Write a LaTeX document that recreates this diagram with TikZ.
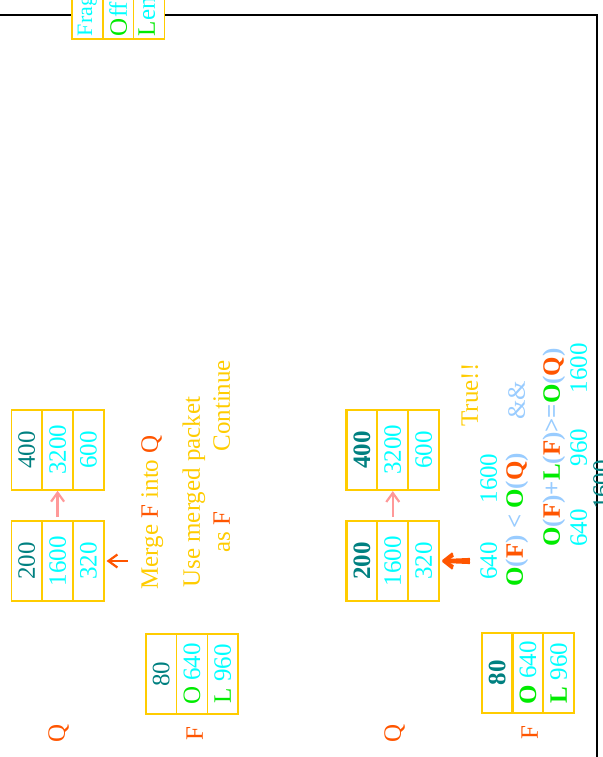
\documentclass[tikz,border=0pt]{standalone}
\usepackage{fontspec}
\setmainfont{Liberation Serif}
\usetikzlibrary{arrows.meta}
\definecolor{gold}{RGB}{255,204,0}
\definecolor{orng}{RGB}{255,85,0}
\definecolor{tealc}{RGB}{0,128,128}
\definecolor{cyanc}{RGB}{0,255,255}
\definecolor{grn}{RGB}{0,235,0}
\definecolor{lblue}{RGB}{153,204,255}
\definecolor{pinkc}{RGB}{255,153,153}
\tikzset{
	cell/.style={draw=gold,line width=0.75pt,minimum width=40pt,minimum height=15.4pt,inner sep=0pt,text=cyanc},
	boldcell/.style={cell,line width=1.1pt},
	txt/.style={inner sep=0pt,anchor=base west},
	num/.style={inner sep=0pt,anchor=base,text=cyanc},
	lbl/.style={inner sep=0pt,anchor=base,text=orng},
	barb/.style={-{Straight Barb[length=4.5pt,width=6.5pt]},line width=1.1pt},
}
% one packet = three cells on top of each other
\newcommand{\packet}[7]{%
	\node[#7] (#1-1) at (#2,#3) {#4};
	\node[#7] (#1-2) at (#2,#3-30.8) {#5};
	\node[#7] (#1-3) at (#2,#3-61.6) {#6};
}
\begin{document}
\begin{tikzpicture}[x=0.5pt,y=0.5pt,rotate=90,transform shape,
		every node/.style={font=\fontsize{12.5pt}{15pt}\selectfont}]
	\useasboundingbox (0,0) rectangle (757,602);
	\draw[line width=0.7pt] (-10,5) -- (742,5) -- (742,640);
	% legend
	\node[cell,fill=white,text width=37pt,align=left,inner xsep=1.5pt] (frag) at (758,514.6) {\fontsize{11pt}{13pt}\selectfont Fragment};
	\node[cell,fill=white,text width=37pt,align=left,inner xsep=1.5pt] (off) at (758,483.8) {\textcolor{grn}{O}ffset};
	\node[cell,fill=white,text width=37pt,align=left,inner xsep=1.5pt] (len) at (758,453) {\textcolor{grn}{L}ength};
	% before the merge
	\node[lbl] (q1) at (23.5,537) {Q};
	\node[lbl] (f1) at (23.5,399) {F};
	\packet{qa1}{196}{575.2}{\textcolor{tealc}{200}}{1600}{320}{cell}
	\packet{qb1}{307}{575.2}{\textcolor{tealc}{400}}{3200}{600}{cell}
	\packet{fp1}{83}{440.8}{\textcolor{tealc}{80}}{\textcolor{grn}{O} 640}{\textcolor{grn}{L} 960}{cell}
	\draw[barb,pinkc,shorten <=1.5pt] (qa1-2) -- (qb1-2);
	\coordinate (m1) at (196,474);
	\draw[barb,orng,shorten >=1pt] (m1) -- (qa1-3);
	\node[txt,text=gold] (merge) at (167,444) {Merge \textcolor{orng}{F} into \textcolor{orng}{Q}};
	\node[txt,text=gold] (use) at (169,402) {Use merged packet};
	\node[txt,text=gold] (asf) at (204,372) {as \textcolor{orng}{F}};
	\node[txt,text=gold] (cont) at (305,372) {Continue};
	% the check
	\node[lbl] (q2) at (23.5,201) {Q};
	\node[lbl] (f2) at (24,64) {F};
	\packet{qa2}{196}{240}{\textcolor{tealc}{\textbf{200}}}{1600}{320}{boldcell}
	\packet{qb2}{307}{240}{\textcolor{tealc}{\textbf{400}}}{3200}{600}{boldcell}
	\packet{fp2}{84}{104.8}{\textcolor{tealc}{\textbf{80}}}{\textcolor{grn}{\textbf{O}} 640}{\textcolor{grn}{\textbf{L}} 960}{boldcell}
	\draw[barb,pinkc,shorten <=1.5pt] (qa2-2) -- (qb2-2);
	\foreach \d in {-2,0,2} {
		\coordinate (m2\d) at (196+\d,132);
		\draw[barb,orng,shorten >=1pt] (m2\d) -- (qa2-3);
	}
	\node[num] (o1) at (196,105) {640};
	\node[num] (o2) at (278.5,105) {1600};
	\node[txt,text=lblue] (cmp) at (170,79) {\bfseries\textcolor{grn}{O}(\textcolor{orng}{F}) < \textcolor{grn}{O}(\textcolor{orng}{Q})};
	\node[txt,text=lblue] (and) at (337,77) {\&\&};
	\node[txt,text=gold] (true) at (330,124) {True!!};
	\node[txt,text=lblue] (sum) at (210,42) {\bfseries\textcolor{grn}{O}(\textcolor{orng}{F})+\textcolor{grn}{L}(\textcolor{orng}{F})>=\textcolor{grn}{O}(\textcolor{orng}{Q})};
	\node[num] (n1) at (229,15) {640};
	\node[num] (n2) at (309.5,15) {960};
	\node[num] (n3) at (389,15) {1600};
	\node[num,text=tealc] (cut) at (272,-8) {1600};
\end{tikzpicture}
\end{document}
